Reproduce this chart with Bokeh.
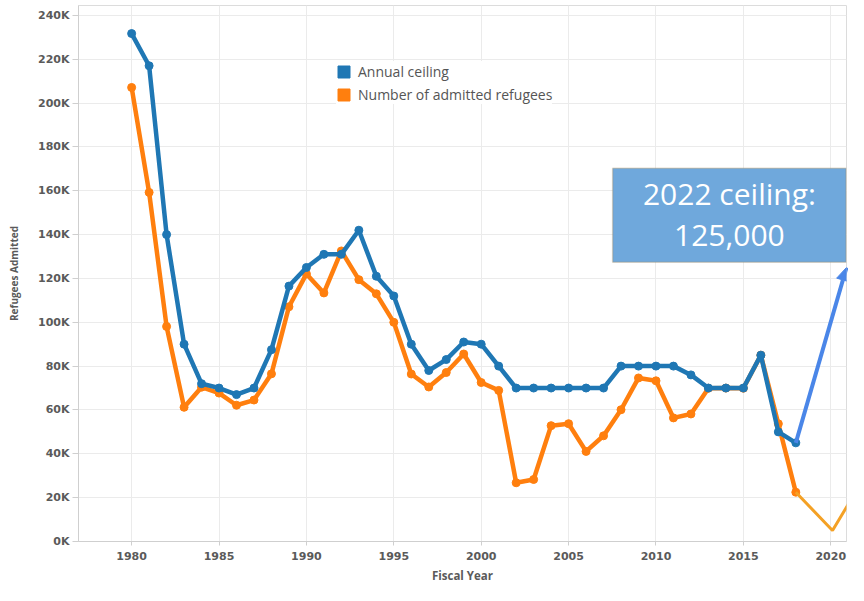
from bokeh.plotting import figure
from bokeh.models import (Range1d, Legend, LegendItem, Arrow, NormalHead, BoxAnnotation,
                          Label, ColumnDataSource, FixedTicker)
from bokeh.embed import file_html
from bokeh.resources import INLINE

# ---------------- data ----------------
years = list(range(1980, 2019))
ceiling = [231700, 217000, 140000, 90000, 72000, 70000, 67000, 70000, 87500, 116500,
           125000, 131000, 131000, 142000, 121000, 112000, 90000, 78000, 83000, 91000,
           90000, 80000, 70000, 70000, 70000, 70000, 70000, 70000, 80000, 80000,
           80000, 80000, 76000, 70000, 70000, 70000, 85000, 50000, 45000]
admitted = [207116, 159252, 98096, 61218, 70393, 67704, 62146, 64528, 76483, 107070,
            122066, 113389, 132531, 119448, 112981, 99974, 76403, 70488, 77080, 85525,
            72515, 68920, 26785, 28286, 52840, 53738, 41094, 48218, 60108, 74602,
            73293, 56384, 58179, 69909, 69975, 69920, 84989, 53716, 22491]
trend_years = [2018, 2020.1, 2021.0]
trend_values = [22491, 5000, 17000]
ceiling_2022 = 125000
series_names = ["Annual ceiling", "Number of admitted refugees"]
annotation_lines = ["2022 ceiling:", "125,000"]
y_ticks = [0, 20000, 40000, 60000, 80000, 100000, 120000, 140000, 160000, 180000,
           200000, 220000, 240000]
y_tick_labels = ["0K", "20K", "40K", "60K", "80K", "100K", "120K", "140K", "160K",
                 "180K", "200K", "220K", "240K"]
x_ticks = [1980, 1985, 1990, 1995, 2000, 2005, 2010, 2015, 2020]

BLUE = "#1F77B4"
ORANGE = "#FF7F0E"
AMBER = "#F4A125"
ARROW_BLUE = "#4A86E8"
TXT = "#5a5a5a"

p = figure(width=848, height=585, output_backend="svg", toolbar_location=None,
           x_range=Range1d(1976.96, 2020.9), y_range=Range1d(0, 244500),
           min_border_left=78, min_border_right=2, min_border_top=5, min_border_bottom=44,
           background_fill_color="white", border_fill_color="white")
p.outline_line_color = "#dcdcdc"
p.outline_line_width = 1

# axes
p.xaxis.ticker = FixedTicker(ticks=x_ticks)
p.yaxis.ticker = FixedTicker(ticks=y_ticks)
p.yaxis.major_label_overrides = {t: l for t, l in zip(y_ticks, y_tick_labels)}
for ax in (p.xaxis, p.yaxis):
    ax.axis_line_color = "#cfcfcf"
    ax.major_tick_line_color = "#cfcfcf"
    ax.minor_tick_line_color = None
    ax.major_tick_in = 0
    ax.major_label_text_font = "DejaVu Sans"
    ax.major_label_text_font_style = "bold"
    ax.major_label_text_font_size = "11px"
    ax.major_label_text_color = TXT
    ax.axis_label_text_font = "Open Sans"
    ax.axis_label_text_font_style = "bold"
    ax.axis_label_text_color = TXT
p.yaxis.axis_label_text_font_size = "10px"
p.xaxis.axis_label_text_font_size = "11.5px"
p.yaxis.major_tick_out = 6
p.xaxis.major_tick_out = 4
p.yaxis.major_label_standoff = 3
p.xaxis.major_label_standoff = 6
p.yaxis.axis_label = "Refugees Admitted"
p.xaxis.axis_label = "Fiscal Year"
p.yaxis.axis_label_standoff = 14
p.xaxis.axis_label_standoff = 5

p.xgrid.grid_line_color = "#ebebeb"
p.ygrid.grid_line_color = "#ebebeb"

# series
src = ColumnDataSource(dict(year=years, ceiling=ceiling, admitted=admitted))
p.line("year", "admitted", source=src, line_color=ORANGE, line_width=4.5)
p.scatter("year", "admitted", source=src, size=8, fill_color=ORANGE, line_color=ORANGE)
p.line(trend_years, trend_values, line_color=AMBER, line_width=3)
p.line("year", "ceiling", source=src, line_color=BLUE, line_width=4.5)
p.scatter("year", "ceiling", source=src, size=8, fill_color=BLUE, line_color=BLUE)

# arrow from last ceiling to 2022 ceiling
p.add_layout(Arrow(end=NormalHead(size=13, fill_color=ARROW_BLUE, line_color=ARROW_BLUE),
                   x_start=years[-1], y_start=ceiling[-1],
                   x_end=2020.9, y_end=ceiling_2022,
                   line_color=ARROW_BLUE, line_width=4))

# annotation box
p.add_layout(BoxAnnotation(left=2007.52, right=2020.88, top=170300, bottom=ceiling_2022 + 2400,
                           fill_color="#6FA8DC", fill_alpha=1.0,
                           line_color="#A8894F", line_width=1.5))
for txt, yy in zip(annotation_lines, [158700, 139800]):
    p.add_layout(Label(x=2014.2, y=yy, text=txt, text_align="center", text_baseline="middle",
                       text_color="white", text_font="Open Sans", text_font_size="30px"))

# legend with square swatches
nan = float("nan")
q1 = p.quad(left=[nan], right=[nan], top=[nan], bottom=[nan],
            fill_color=BLUE, line_color=BLUE)
q2 = p.quad(left=[nan], right=[nan], top=[nan], bottom=[nan],
            fill_color=ORANGE, line_color=ORANGE)
legend = Legend(items=[LegendItem(label=series_names[0], renderers=[q1]),
                       LegendItem(label=series_names[1], renderers=[q2])],
                location=(258, 437), glyph_width=15, glyph_height=15, label_height=20,
                spacing=3, padding=5, label_standoff=7,
                label_text_font="Open Sans", label_text_font_size="14px",
                label_text_color="#555555", border_line_color=None,
                background_fill_color="white", background_fill_alpha=1.0)
p.add_layout(legend)

open("out.html", "w").write(file_html(p, INLINE))
